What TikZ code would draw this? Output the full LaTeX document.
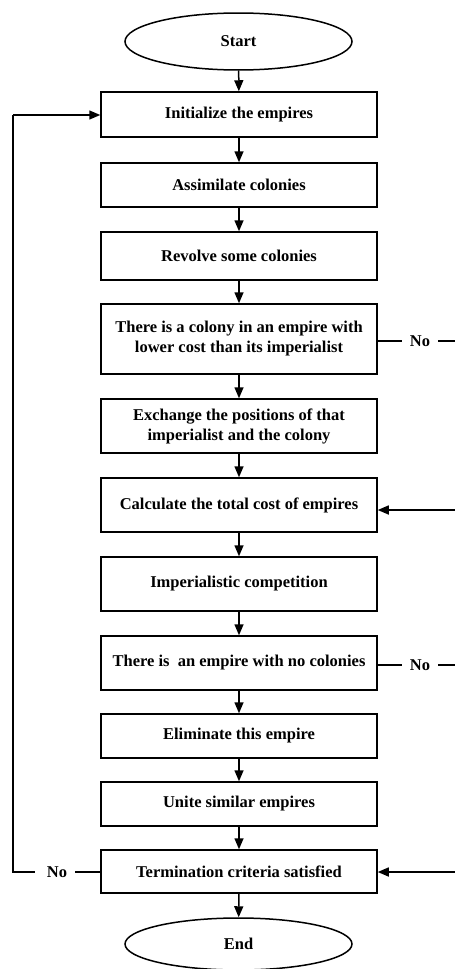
\documentclass[tikz,border=0pt]{standalone}
\usepackage{fontspec}
\setmainfont{Liberation Serif}
\usepackage{tikz}
\usetikzlibrary{shapes.geometric,arrows.meta}

\tikzset{
  box/.style={draw, line width=1.5pt, minimum width=276pt, inner sep=0pt,
    align=center, font=\fontsize{16.5}{20}\selectfont\bfseries},
  term/.style={draw, ellipse, line width=1.5pt, minimum width=227pt, inner sep=0pt,
    font=\fontsize{16.5}{20}\selectfont\bfseries},
  flow/.style={line width=1.5pt, -{Triangle[length=11pt,width=9pt]}},
  link/.style={line width=1.5pt},
  lbl/.style={font=\fontsize{16.5}{20}\selectfont\bfseries, inner sep=0pt}
}

\begin{document}
\begin{tikzpicture}[x=1pt,y=-1pt]
  \useasboundingbox (0,0) rectangle (455,969);
  \node[term, minimum height=57pt] (start) at (238.5,41.5) {Start};
  \node[box, minimum height=45pt] (init) at (239,114.5) {Initialize the empires};
  \node[box, minimum height=44pt] (assim) at (239,185) {Assimilate colonies};
  \node[box, minimum height=48pt] (revolve) at (239,256) {Revolve some colonies};
  \node[box, minimum height=70pt] (lower) at (239,339) {There is a colony in an empire with\\lower cost than its imperialist};
  \node[box, minimum height=54pt] (swap) at (239,426) {Exchange the positions of that\\imperialist and the colony};
  \node[box, minimum height=54pt] (cost) at (239,505) {Calculate the total cost of empires};
  \node[box, minimum height=54pt] (compet) at (239,584) {Imperialistic competition};
  \node[box, minimum height=54pt] (empty) at (239,663) {There is~ an empire with no colonies};
  \node[box, minimum height=44pt] (elim) at (239,736) {Eliminate this empire};
  \node[box, minimum height=44pt] (unite) at (239,804) {Unite similar empires};
  \node[box, minimum height=43pt] (stop) at (239,871.5) {Termination criteria satisfied};
  \node[term, minimum height=52pt] (end) at (238.5,944) {End};
  % main flow
  \draw[flow] (start) -- (init);
  \draw[flow] (init) -- (assim);
  \draw[flow] (assim) -- (revolve);
  \draw[flow] (revolve) -- (lower);
  \draw[flow] (lower) -- (swap);
  \draw[flow] (swap) -- (cost);
  \draw[flow] (cost) -- (compet);
  \draw[flow] (compet) -- (empty);
  \draw[flow] (empty) -- (elim);
  \draw[flow] (elim) -- (unite);
  \draw[flow] (unite) -- (stop);
  \draw[flow] (stop) -- (end);
  % right side branches
  \node[lbl] (no1) at (420,341) {No};
  \coordinate (r1) at (455,341);
  \draw[link] (lower.east |- no1) -- ([xshift=-8pt]no1.west);
  \draw[link] ([xshift=8pt]no1.east) -- (r1);
  \node[lbl] (no2) at (420,665) {No};
  \coordinate (r2) at (455,665);
  \draw[link] (empty.east |- no2) -- ([xshift=-8pt]no2.west);
  \draw[link] ([xshift=8pt]no2.east) -- (r2);
  \coordinate (r3) at (455,510);
  \draw[flow] (r3) -- (cost.east |- r3);
  \coordinate (r4) at (455,872);
  \draw[flow] (r4) -- (stop.east |- r4);
  % loop back
  \node[lbl] (no3) at (57,872) {No};
  \coordinate (l1) at (13,872);
  \coordinate (l2) at (13,115);
  \draw[link] (stop.west |- no3) -- ([xshift=8pt]no3.east);
  \draw[link] ([xshift=-12pt]no3.west) -- (l1) -- (l2);
  \draw[flow] (l2) -- (init.west |- l2);
\end{tikzpicture}
\end{document}
